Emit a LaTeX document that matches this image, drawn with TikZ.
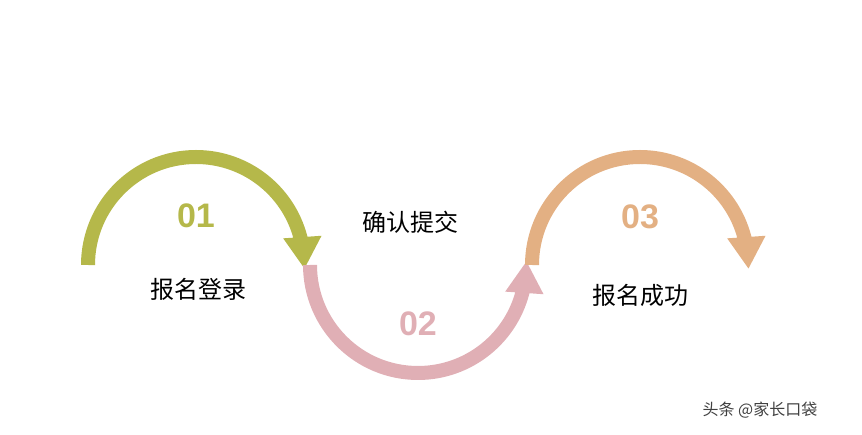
\documentclass[tikz,border=0pt]{standalone}
\usepackage{fontspec}
\setmainfont{Liberation Sans}
\newfontfamily\cjk{Noto Sans CJK SC}
\usetikzlibrary{arrows.meta}
\definecolor{olive}{HTML}{B5B84A}
\definecolor{pinkc}{HTML}{E0AFB5}
\definecolor{orangec}{HTML}{E3B083}
\begin{document}
\begin{tikzpicture}[x=1pt,y=1pt,
  arc/.style={line width=14pt},
  tip/.style={line width=14pt,-{Triangle[width=36pt,length=32pt]}},
  num/.style={font=\bfseries\fontsize{34}{34}\selectfont},
  lab/.style={font=\cjk\fontsize{24}{24}\selectfont}]
\useasboundingbox (0,0) rectangle (862,435);
\draw[arc,olive] (88,170) arc (180:12:108);
\draw[tip,olive] (303.6,179.4) -- (304.5,166);
\draw[arc,pinkc] (310,170) arc (180:348:108);
\draw[tip,pinkc] (525.6,160.6) -- (526.5,174);
\draw[arc,orangec] (532,170) arc (180:12:108);
\draw[tip,orangec] (747.6,179.4) -- (748.5,166);
\node[num,olive] (n1) at (196,219) {01};
\node[num,pinkc] (n2) at (418,111) {02};
\node[num,orangec] (n3) at (640,218) {03};
\node[lab] (l1) at (198,146) {报名登录};
\node[lab] (l2) at (410,213) {确认提交};
\node[lab] (l3) at (640,140) {报名成功};
\node[font=\cjk\fontsize{16}{16}\selectfont,text=black!75] (w) at (760,25) {头条 @家长口袋};
\end{tikzpicture}
\end{document}
